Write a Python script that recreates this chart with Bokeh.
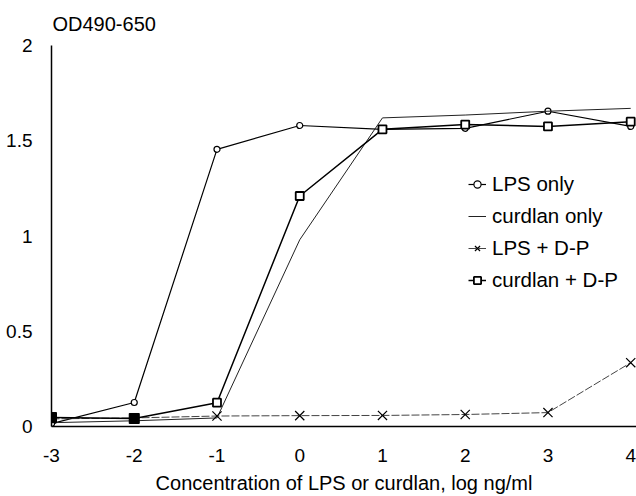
from bokeh.plotting import figure
from bokeh.models import Range1d, Legend, LegendItem, FixedTicker
from bokeh.embed import file_html
from bokeh.resources import INLINE

# ---- data ----
x_vals = [-3, -2, -1, 0, 1, 2, 3, 4]
lps_only = [0.015, 0.126, 1.455, 1.58, 1.56, 1.565, 1.655, 1.575]
curdlan_only = [0.02, 0.03, 0.045, 0.98, 1.62, 1.635, 1.655, 1.67]
lps_dp = [0.04, 0.045, 0.055, 0.057, 0.058, 0.063, 0.073, 0.335]
curdlan_dp = [0.047, 0.042, 0.125, 1.21, 1.56, 1.585, 1.575, 1.6]
x_ticks = [-3, -2, -1, 0, 1, 2, 3, 4]
x_tick_labels = ["-3", "-2", "-1", "0", "1", "2", "3", "4"]
y_ticks = [0, 0.5, 1, 1.5, 2]
y_tick_labels = ["0", "0.5", "1", "1.5", "2"]
series_names = ["LPS only", "curdlan only", "LPS + D-P", "curdlan + D-P"]
y_title = "OD490-650"
x_title = "Concentration of LPS or curdlan, log ng/ml"

FONT = "Liberation Sans"

p = figure(width=636, height=496, output_backend="svg", toolbar_location=None,
           x_range=Range1d(-3, 4.07), y_range=Range1d(0, 2),
           min_border_left=51, min_border_right=0, min_border_top=45,
           min_border_bottom=69)
p.outline_line_color = None
p.grid.visible = False
p.background_fill_color = "white"
p.border_fill_color = "white"

p.title.text = y_title
p.title.align = "left"
p.title.text_font = FONT
p.title.text_font_size = "20px"
p.title.text_font_style = "normal"
p.title.text_color = "black"
p.title.offset = 1
p.title.standoff = 21

for ax in (p.xaxis[0], p.yaxis[0]):
    ax.major_tick_line_color = None
    ax.minor_tick_line_color = None
    ax.axis_line_color = "black"
    ax.axis_line_width = 1.5
    ax.major_label_text_font = FONT
    ax.major_label_text_font_size = "19px"
    ax.major_label_text_color = "black"

p.xaxis.ticker = FixedTicker(ticks=x_ticks)
p.xaxis.major_label_overrides = dict(zip(x_ticks, x_tick_labels))
p.yaxis.ticker = FixedTicker(ticks=y_ticks)
p.yaxis.major_label_overrides = dict(zip(y_ticks, y_tick_labels))
p.xaxis.major_label_standoff = 16
p.yaxis.major_label_standoff = 13
p.xaxis.axis_label = x_title
p.xaxis.axis_label_text_font = FONT
p.xaxis.axis_label_text_font_size = "20px"
p.xaxis.axis_label_text_font_style = "normal"
p.xaxis.axis_label_text_color = "black"
p.xaxis.axis_label_standoff = 7

# series
r1l = p.line(x_vals, lps_only, line_color="black", line_width=1.2)
r1m = p.scatter(x_vals, lps_only, marker="circle", size=6, line_color="black",
                fill_color="white", line_width=1.2)
r2l = p.line(x_vals, curdlan_only, line_color="#222222", line_width=1)
r3l = p.line(x_vals, lps_dp, line_color="#444444", line_width=1, line_dash="8 2")
r3m = p.scatter(x_vals, lps_dp, marker="x", size=13, line_color="black", line_width=1.2)
r4l = p.line(x_vals, curdlan_dp, line_color="black", line_width=1.5)
r4m = p.scatter(x_vals, curdlan_dp, marker="square", size=8, line_color="black",
                fill_color="white", line_width=1.8)
p.scatter(x_vals[:2], curdlan_dp[:2], marker="square", size=10, line_color="black",
          fill_color="black")

legend = Legend(items=[
    LegendItem(label=series_names[0], renderers=[r1l, r1m]),
    LegendItem(label=series_names[1], renderers=[r2l]),
    LegendItem(label=series_names[2], renderers=[r3l, r3m]),
    LegendItem(label=series_names[3], renderers=[r4l, r4m]),
], location=(417, 134), orientation="vertical")
legend.border_line_color = None
legend.background_fill_alpha = 0
legend.padding = 0
legend.margin = 0
legend.glyph_width = 18
legend.glyph_height = 20
legend.label_height = 20
legend.spacing = 8
legend.label_standoff = 6
legend.label_text_font = FONT
legend.label_text_font_size = "20.5px"
legend.label_text_color = "black"
p.add_layout(legend, "center")

open("out.html", "w").write(file_html(p, INLINE))
